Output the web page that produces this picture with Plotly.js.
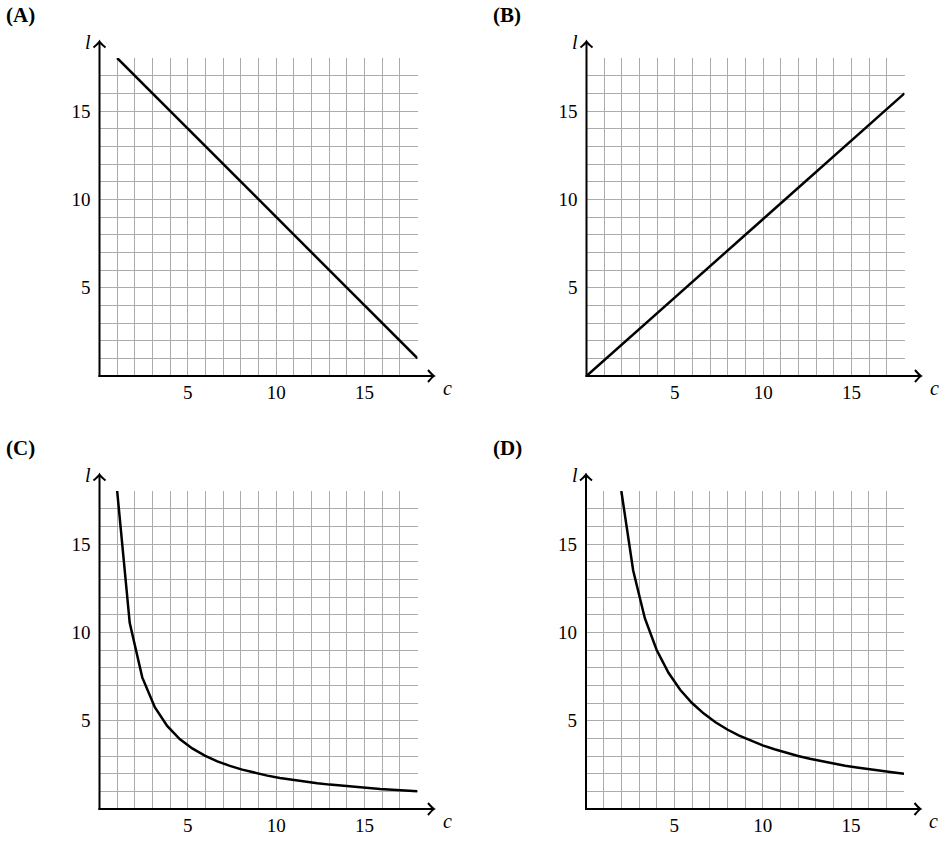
<!DOCTYPE html>
<html>
<head>
<meta charset="utf-8">
<script src="https://cdn.plot.ly/plotly-3.0.1.min.js"></script>
<style>
  body { margin: 0; background: #fff; }
  #mainPlot { width: 951px; height: 850px; }
</style>
</head>
<body>
<div id="mainPlot"></div>
<script>
MAINPLOT = document.getElementById('mainPlot');

// (A) straight line going down
let a_c = [1, 18];
let a_l = [18, 1];

// (B) straight line through the origin
let b_c = [0, 18];
let b_l = [0, 16];

// (C) curve, points
let c_c = [1, 1.71, 2.42, 3.13, 3.83, 4.54, 5.25, 5.96, 6.67, 7.38, 8.08, 8.79, 9.5,
           10.21, 10.92, 11.63, 12.33, 13.04, 13.75, 14.46, 15.17, 15.88, 16.58, 17.29, 18];
let c_l = [18, 10.54, 7.45, 5.76, 4.7, 3.96, 3.43, 3.02, 2.7, 2.44, 2.23, 2.05, 1.89,
           1.76, 1.65, 1.55, 1.46, 1.38, 1.31, 1.24, 1.19, 1.13, 1.09, 1.04, 1];

// (D) curve, points
let d_c = [2, 2.67, 3.33, 4, 4.67, 5.33, 6, 6.67, 7.33, 8, 8.67, 9.33, 10,
           10.67, 11.33, 12, 12.67, 13.33, 14, 14.67, 15.33, 16, 16.67, 17.33, 18];
let d_l = [18, 13.5, 10.8, 9, 7.71, 6.75, 6, 5.4, 4.91, 4.5, 4.15, 3.86, 3.6,
           3.38, 3.18, 3, 2.84, 2.7, 2.57, 2.45, 2.35, 2.25, 2.16, 2.08, 2];

let panelNames = ['(A)', '(B)', '(C)', '(D)'];
let tickVals = [5, 10, 15];
let tickText = ['5', '10', '15'];

const W = 951, H = 850;
const SIDE = 318;     // plot square in px
const ARROW = 334.5;  // axis length incl. arrow, px
// origin of each panel in px (left, bottom)
const origins = [[99.5, 376], [586.5, 376], [99.5, 809], [586, 809]];
const labelPos = [[4, 15], [491, 15], [4, 448], [491, 448]];

const FONT = "'Liberation Serif', 'Times New Roman', serif";

function px2x(p) { return p / W; }
function px2y(p) { return 1 - p / H; }

let series = [[a_c, a_l], [b_c, b_l], [c_c, c_l], [d_c, d_l]];

var data = series.map((s, i) => ({
    x: s[0],
    y: s[1],
    xaxis: i === 0 ? 'x' : 'x' + (i + 1),
    yaxis: i === 0 ? 'y' : 'y' + (i + 1),
    type: 'scatter',
    mode: 'lines',
    cliponaxis: false,
    line: { color: '#000', width: 2.5 },
    hoverinfo: 'skip',
    showlegend: false
}));

var layout = {
    width: W,
    height: H,
    margin: { l: 0, r: 0, t: 0, b: 0 },
    paper_bgcolor: '#fff',
    plot_bgcolor: '#fff',
    showlegend: false,
    font: { family: FONT, size: 19, color: '#000' },
    annotations: [],
    shapes: []
};

function axisBase() {
    return {
        range: [0, 18],
        tickmode: 'array',
        tickvals: tickVals,
        ticktext: tickText,
        ticks: '',
        showgrid: true,
        gridcolor: '#ababab',
        gridwidth: 1,
        minor: { dtick: 1, tick0: 0, showgrid: true, gridcolor: '#ababab', gridwidth: 1 },
        zeroline: false,
        showline: false,
        fixedrange: true,
        tickfont: { family: FONT, size: 19, color: '#000' }
    };
}

// chevron arrow tip, given in px, turned into a paper path
function tipPath(tx, ty, dir) {
    let pts;
    if (dir === 'right') {
        pts = [[tx - 6, ty - 6], [tx - 2, ty - 1.2], [tx, ty], [tx - 2, ty + 1.2], [tx - 6, ty + 6]];
    } else {
        pts = [[tx - 6, ty + 6], [tx - 1.2, ty + 2], [tx, ty], [tx + 1.2, ty + 2], [tx + 6, ty + 6]];
    }
    let p = pts.map(q => [px2x(q[0]), px2y(q[1])]);
    return 'M' + p[0][0] + ',' + p[0][1] +
           ' Q' + p[1][0] + ',' + p[1][1] + ' ' + p[2][0] + ',' + p[2][1] +
           ' Q' + p[3][0] + ',' + p[3][1] + ' ' + p[4][0] + ',' + p[4][1];
}

origins.forEach((o, i) => {
    let sfx = i === 0 ? '' : String(i + 1);
    let xa = axisBase();
    let ya = axisBase();
    xa.domain = [px2x(o[0]), px2x(o[0] + SIDE)];
    xa.anchor = 'y' + sfx;
    xa.ticklabelstandoff = 3;
    ya.domain = [px2y(o[1]), px2y(o[1] - SIDE)];
    ya.anchor = 'x' + sfx;
    ya.ticklabelstandoff = 8;
    layout['xaxis' + sfx] = xa;
    layout['yaxis' + sfx] = ya;

    let axLine = { color: '#000', width: 2 };
    // horizontal axis
    layout.shapes.push({
        type: 'line', xref: 'paper', yref: 'paper', layer: 'above',
        x0: px2x(o[0] - 1), y0: px2y(o[1]),
        x1: px2x(o[0] + ARROW - 1), y1: px2y(o[1]),
        line: axLine
    });
    layout.shapes.push({
        type: 'path', xref: 'paper', yref: 'paper', layer: 'above',
        path: tipPath(o[0] + ARROW, o[1], 'right'),
        line: axLine
    });
    // vertical axis
    layout.shapes.push({
        type: 'line', xref: 'paper', yref: 'paper', layer: 'above',
        x0: px2x(o[0]), y0: px2y(o[1] + 1),
        x1: px2x(o[0]), y1: px2y(o[1] - ARROW + 1),
        line: axLine
    });
    layout.shapes.push({
        type: 'path', xref: 'paper', yref: 'paper', layer: 'above',
        path: tipPath(o[0], o[1] - ARROW, 'up'),
        line: axLine
    });
    // axis names
    layout.annotations.push({
        xref: 'paper', yref: 'paper',
        x: px2x(o[0] + 347.5), y: px2y(o[1] + 12),
        xanchor: 'center', yanchor: 'middle',
        text: '<i>c</i>', showarrow: false,
        font: { family: FONT, size: 20 }
    });
    layout.annotations.push({
        xref: 'paper', yref: 'paper',
        x: px2x(o[0] - 11.5), y: px2y(o[1] - 334),
        xanchor: 'center', yanchor: 'middle',
        text: '<i>l</i>', showarrow: false,
        font: { family: FONT, size: 20 }
    });
    // panel name
    layout.annotations.push({
        xref: 'paper', yref: 'paper',
        x: px2x(labelPos[i][0]), y: px2y(labelPos[i][1]),
        xanchor: 'left', yanchor: 'middle',
        text: '<b>' + panelNames[i] + '</b>', showarrow: false,
        font: { family: FONT, size: 21 }
    });
});

Plotly.newPlot(MAINPLOT, data, layout, { staticPlot: true });
</script>
</body>
</html>
